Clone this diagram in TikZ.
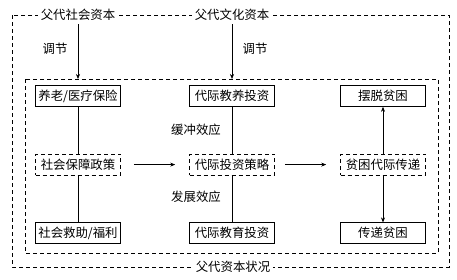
\documentclass[tikz,border=0pt]{standalone}
\usepackage{fontspec}
\newfontfamily\cjk{Noto Sans CJK SC}
\usetikzlibrary{arrows.meta,positioning}

\begin{document}
\begin{tikzpicture}[
x=1pt, y=-1pt,
font=\cjk\fontsize{12.4}{14}\selectfont,
line width=0.6pt,
node distance=47pt and 66pt,
block/.style={draw, minimum height=21pt, minimum width=85pt, inner sep=2pt},
dblock/.style={block, dash pattern=on 4pt off 3pt},
frame/.style={draw, dash pattern=on 4pt off 3pt},
tag/.style={fill=white, inner sep=3pt},
arrow/.style={-{Stealth[length=5pt, width=4pt]}}
]
\useasboundingbox (0,0) rectangle (457,279);

% frames
\draw[frame] (12,15) rectangle (449,267);
\draw[frame] (25,79) rectangle (438,253);
\coordinate (innertop) at (25,79);
\node[tag] (soccap) at (78,15) {父代社会资本};
\node[tag] (culcap) at (232,15) {父代文化资本};
\node[tag] (state) at (233,267) {父代资本状况};

% blocks
\node[block] (pension) at (78,96) {养老/医疗保险};
\node[dblock, below=of pension] (policy) {社会保障政策};
\node[block, below=of policy] (relief) {社会救助/福利};
\node[block] (nurture) at (232,96) {代际教养投资};
\node[dblock, below=of nurture] (strategy) {代际投资策略};
\node[block, below=of strategy] (edu) {代际教育投资};
\node[block] (escape) at (383,96) {摆脱贫困};
\node[dblock, below=of escape] (transmit) {贫困代际传递};
\node[block, below=of transmit] (pass) {传递贫困};

% labels
\node at (55,49) {调节};
\node at (255,49) {调节};
\node at (196,130) {缓冲效应};
\node at (196,197) {发展效应};

% connectors
\draw[arrow] (soccap) -- (soccap |- innertop);
\draw[arrow] (culcap) -- (culcap |- innertop);
\draw (pension) -- (policy) -- (relief);
\draw (nurture) -- (strategy) -- (edu);
\draw[arrow, shorten <=13pt, shorten >=14pt] (policy) -- (strategy);
\draw[arrow, shorten <=10pt, shorten >=14pt] (strategy) -- (transmit);
\draw[arrow] (transmit) -- (escape);
\draw[arrow] (transmit) -- (pass);
\end{tikzpicture}
\end{document}
